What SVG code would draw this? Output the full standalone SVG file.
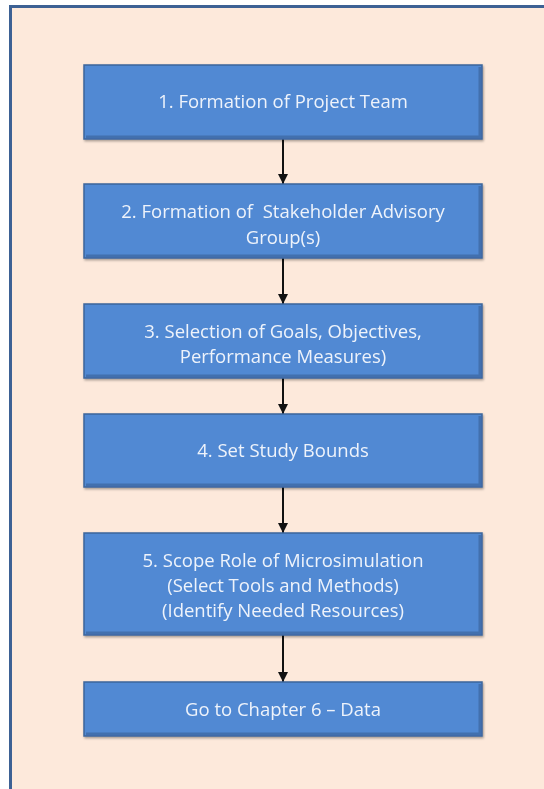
<svg xmlns="http://www.w3.org/2000/svg" width="544" height="789" viewBox="0 0 544 789">
  <style>
    .box { fill: #5189d3; stroke: #3c659c; stroke-width: 1.5; }
    .edge { fill: none; stroke: #3f6aa5; stroke-width: 3; opacity: 0.8; }
    .lbl { font-family: "Open Sans", "Liberation Sans", sans-serif; font-size: 18.5px; fill: #eef3fb; text-anchor: middle; white-space: pre; }
    .conn { stroke: #111; stroke-width: 2; fill: none; marker-end: url(#arr); }
  </style>
  <defs>
    <marker id="arr" viewBox="0 0 10 10" refX="10" refY="5" markerWidth="5" markerHeight="5" markerUnits="strokeWidth" orient="auto">
      <path d="M0,0 L10,5 L0,10 z" fill="#111"/>
    </marker>
    <filter id="sh" x="-5%" y="-10%" width="110%" height="130%">
      <feDropShadow dx="1" dy="1.5" stdDeviation="1.2" flood-color="#000" flood-opacity="0.35"/>
    </filter>
  </defs>
  <rect x="0" y="0" width="544" height="789" fill="#ffffff"/>
  <rect x="10.5" y="6.5" width="545" height="800" fill="#fde9db" stroke="#3d6194" stroke-width="3"/>

  <g id="connectors">
    <line class="conn" x1="283" y1="139" x2="283" y2="184"/>
    <line class="conn" x1="283" y1="258" x2="283" y2="304"/>
    <line class="conn" x1="283" y1="378" x2="283" y2="414"/>
    <line class="conn" x1="283" y1="487" x2="283" y2="533"/>
    <line class="conn" x1="283" y1="635" x2="283" y2="682"/>
  </g>

  <g id="n1" filter="url(#sh)">
    <rect class="box" x="84" y="65" width="398" height="74"/>
    <path class="edge" d="M86,137 H480 V67"/>
    <text class="lbl" x="283" y="108">1. Formation of Project Team</text>
  </g>
  <g id="n2" filter="url(#sh)">
    <rect class="box" x="84" y="184" width="398" height="74"/>
    <path class="edge" d="M86,256 H480 V186"/>
    <text class="lbl" x="283" y="218" xml:space="preserve">2. Formation of  Stakeholder Advisory</text>
    <text class="lbl" x="283" y="244">Group(s)</text>
  </g>
  <g id="n3" filter="url(#sh)">
    <rect class="box" x="84" y="304" width="398" height="74"/>
    <path class="edge" d="M86,376 H480 V306"/>
    <text class="lbl" x="283" y="338">3. Selection of Goals, Objectives,</text>
    <text class="lbl" x="283" y="363">Performance Measures)</text>
  </g>
  <g id="n4" filter="url(#sh)">
    <rect class="box" x="84" y="414" width="398" height="73"/>
    <path class="edge" d="M86,485 H480 V416"/>
    <text class="lbl" x="283" y="457">4. Set Study Bounds</text>
  </g>
  <g id="n5" filter="url(#sh)">
    <rect class="box" x="84" y="533" width="398" height="102"/>
    <path class="edge" d="M86,633 H480 V535"/>
    <text class="lbl" x="283" y="567">5. Scope Role of Microsimulation</text>
    <text class="lbl" x="283" y="592">(Select Tools and Methods)</text>
    <text class="lbl" x="283" y="617">(Identify Needed Resources)</text>
  </g>
  <g id="n6" filter="url(#sh)">
    <rect class="box" x="84" y="682" width="398" height="54"/>
    <path class="edge" d="M86,734 H480 V684"/>
    <text class="lbl" x="283" y="716">Go to Chapter 6 – Data</text>
  </g>
</svg>
